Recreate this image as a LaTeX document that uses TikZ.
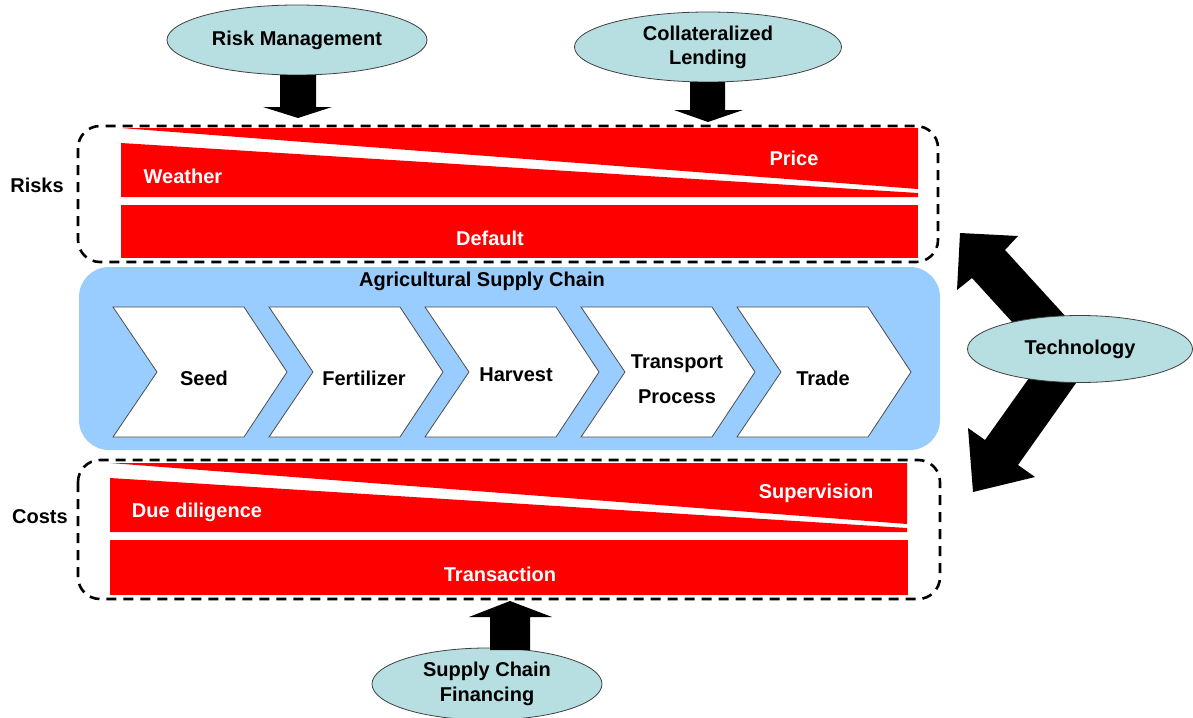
\documentclass[tikz,border=0pt]{standalone}
\usepackage{fontspec}
\setmainfont{Liberation Sans}
\usetikzlibrary{shapes.geometric}
\definecolor{ellfill}{RGB}{183,222,225}
\definecolor{chainblue}{RGB}{153,204,255}
\definecolor{rred}{RGB}{255,0,0}
\begin{document}
\begin{tikzpicture}[x=1pt,y=-1pt,
  every node/.style={font=\fontsize{20}{24}\selectfont\bfseries},
  oval/.style={ellipse,draw=black!75,line width=0.8pt,fill=ellfill,inner sep=0pt,align=center},
  dashbox/.style={draw=black,line width=2.6pt,dash pattern=on 10pt off 7pt,rounded corners=22pt},
  redfill/.style={fill=rred,draw=none},
  whitetxt/.style={text=white},
  chev/.style={fill=white,draw=black!70,line width=0.8pt},
  blockarrow/.style={fill=black,draw=none}]
\useasboundingbox (0,0) rectangle (1193,717);

% ---- Risks box
\draw[dashbox] (78,126) rectangle (938,262);
\fill[redfill] (121,128) -- (918,128) -- (918,189) -- cycle;
\fill[redfill] (121,143) -- (918,193) -- (918,197) -- (121,197) -- cycle;
\fill[redfill] (121,205) rectangle (918,258);
\node[whitetxt] (weather) at (183,176) {Weather};
\node[whitetxt] (price) at (794,158) {Price};
\node[whitetxt] (default) at (490,238) {Default};
\node (risks) at (37,185) {Risks};

% ---- Costs box
\draw[dashbox] (78,460) rectangle (940,599);
\fill[redfill] (110,463) -- (907,463) -- (907,524) -- cycle;
\fill[redfill] (110,478) -- (907,528) -- (907,532) -- (110,532) -- cycle;
\fill[redfill] (110,540) rectangle (908,595);
\node[whitetxt] (due) at (197,512) {Due diligence};
\node[whitetxt] (superv) at (816,493) {Supervision};
\node[whitetxt] (trans) at (500,574) {Transaction};
\node (costs) at (40,517) {Costs};

% ---- Supply chain
\fill[chainblue,rounded corners=30pt] (79,267) rectangle (940,450);
\node (asc) at (482,281) {Agricultural Supply Chain};
\foreach \x/\nm in {113/c1,269/c2,425/c3,581/c4,737/c5}{
  \draw[chev] (\x,307) -- (\x+131,307) -- (\x+174,372) -- (\x+131,437) -- (\x,437) -- (\x+44,372) -- cycle;
}
\node (seed) at (204,378) {Seed};
\node (fert) at (364,378) {Fertilizer};
\node (harv) at (516,375) {Harvest};
\node[align=center,font=\fontsize{20}{35}\selectfont\bfseries] (tp) at (677,379) {Transport\\Process};
\node (trade) at (823,378) {Trade};

% ---- Ovals
\node[oval,minimum width=260pt,minimum height=70pt] (rm) at (297,40) {Risk Management};
\node[oval,minimum width=267pt,minimum height=70pt,font=\fontsize{20}{24}\selectfont\bfseries] (cl) at (708,47) {Collateralized\\Lending};
\node[oval,minimum width=230pt,minimum height=72pt,font=\fontsize{20}{25}\selectfont\bfseries] (scf) at (487,684) {Supply Chain\\Financing};

% ---- Block arrows
\fill[blockarrow] (280,75) -- (316,75) -- (316,107) -- (332,107) -- (298,118) -- (263,107) -- (280,107) -- cycle;
\fill[blockarrow] (690,82) -- (725,82) -- (725,110) -- (743,110) -- (708,122) -- (674,110) -- (690,110) -- cycle;
\fill[blockarrow] (490,650) -- (530,650) -- (530,617) -- (552,617) -- (510,601) -- (469,617) -- (490,617) -- cycle;

% ---- Technology double arrow
\fill[blockarrow] (960,233) -- (1018,236) -- (1005,250) -- (1098,352) -- (1018,465) -- (1035,477)
  -- (973,492) -- (968,428) -- (985,440) -- (1044,357) -- (972,278) -- (957,290) -- cycle;
\node[oval,minimum width=225pt,minimum height=67pt] (tech) at (1080,349) {Technology};
\end{tikzpicture}
\end{document}
